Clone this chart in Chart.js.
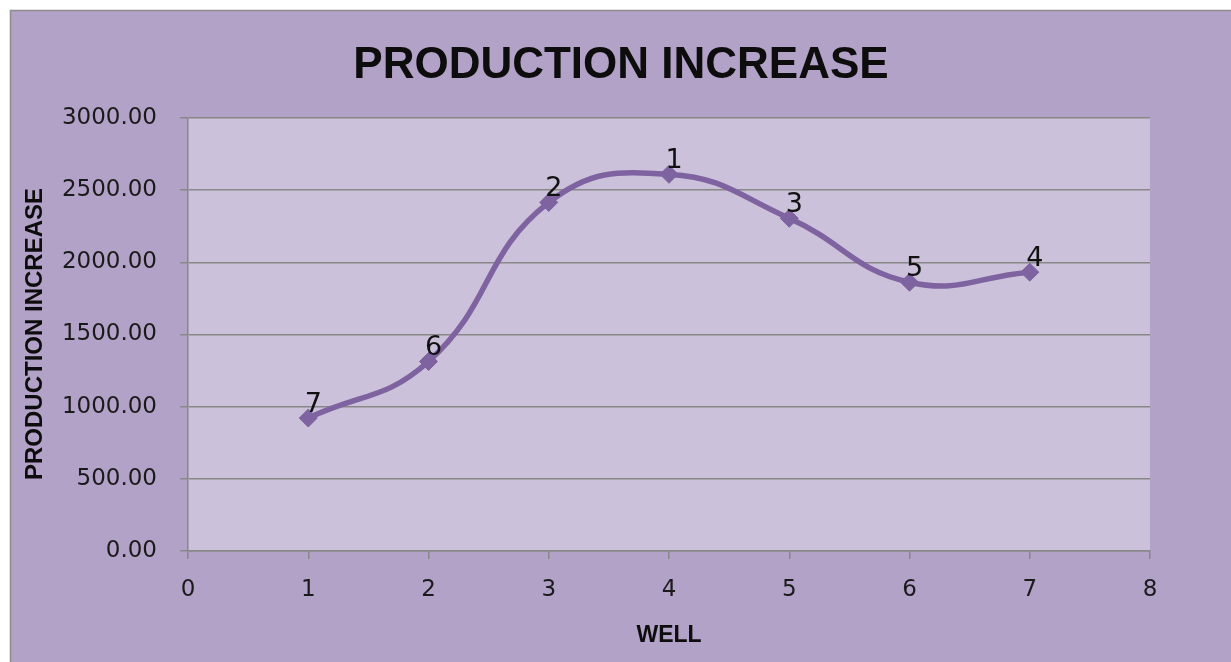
<!DOCTYPE html>
<html>
<head>
<meta charset="utf-8">
<script src="https://cdn.jsdelivr.net/npm/chart.js@4/dist/chart.umd.min.js"></script>
<style>
  html, body { margin: 0; padding: 0; background: #ffffff; }
  #wrap { width: 1231px; height: 662px; position: relative; }
</style>
</head>
<body>
<div id="wrap"><canvas id="c" width="1231" height="662"></canvas></div>
<script>
const wells = [1, 2, 3, 4, 5, 6, 7];
const production = [921, 1313, 2415, 2610, 2305, 1862, 1932];
const pointLabels = ['7', '6', '2', '1', '3', '5', '4'];
const xTicks = [0, 1, 2, 3, 4, 5, 6, 7, 8];
const yTicks = [0, 500, 1000, 1500, 2000, 2500, 3000];

const chartTitle = 'PRODUCTION INCREASE';
const xTitle = 'WELL';
const yTitle = 'PRODUCTION INCREASE';

const LINE = '#7f63a1';
const GRID = '#888888';

const bgPlugin = {
  id: 'bgPlugin',
  beforeDraw(chart) {
    const ctx = chart.ctx;
    const a = chart.chartArea;
    ctx.save();
    ctx.fillStyle = '#ffffff';
    ctx.fillRect(0, 0, chart.width, chart.height);
    ctx.fillStyle = '#b3a2c7';
    ctx.fillRect(10, 10, chart.width - 10, chart.height - 10);
    ctx.strokeStyle = '#8c8c8c';
    ctx.lineWidth = 1.5;
    ctx.beginPath();
    ctx.moveTo(10.5, chart.height);
    ctx.lineTo(10.5, 10.5);
    ctx.lineTo(chart.width, 10.5);
    ctx.stroke();
    ctx.fillStyle = '#ccc1da';
    ctx.fillRect(a.left, a.top, a.right - a.left, a.bottom - a.top);
    ctx.restore();
  },
  afterDraw(chart) {
    const ctx = chart.ctx;
    ctx.save();
    ctx.fillStyle = '#0d0d0d';
    ctx.textAlign = 'center';
    ctx.textBaseline = 'middle';
    ctx.font = 'bold 44px "Liberation Sans"';
    ctx.fillText(chartTitle, 621, 66);
    ctx.translate(35, 334);
    ctx.rotate(-Math.PI / 2);
    ctx.font = 'bold 24px "Liberation Sans"';
    ctx.fillText(yTitle, 0, 0);
    ctx.restore();
  }
};

const labelPlugin = {
  id: 'labelPlugin',
  afterDatasetsDraw(chart) {
    const ctx = chart.ctx;
    const meta = chart.getDatasetMeta(0);
    ctx.save();
    ctx.font = '27px "DejaVu Sans"';
    ctx.fillStyle = '#111111';
    ctx.textAlign = 'center';
    ctx.textBaseline = 'alphabetic';
    meta.data.forEach((pt, i) => {
      ctx.fillText(pointLabels[i], pt.x + 5, pt.y - 6);
    });
    ctx.restore();
  }
};

new Chart(document.getElementById('c'), {
  type: 'line',
  data: {
    datasets: [{
      data: wells.map((w, i) => ({ x: w, y: production[i] })),
      borderColor: LINE,
      backgroundColor: LINE,
      borderWidth: 5.5,
      tension: 0.45,
      pointStyle: 'rectRot',
      pointRadius: 9,
      pointHoverRadius: 9,
      pointBackgroundColor: LINE,
      pointBorderColor: LINE,
      pointBorderWidth: 1,
      fill: false
    }]
  },
  options: {
    responsive: false,
    animation: false,
    devicePixelRatio: 1,
    layout: { padding: { left: 12, right: 81, top: 118, bottom: 11 } },
    plugins: {
      legend: { display: false },
      tooltip: { enabled: false },
      title: { display: false }
    },
    scales: {
      x: {
        type: 'linear',
        min: 0,
        max: 8,
        afterFit(scale) { scale.height = 100; },
        afterBuildTicks(scale) { scale.ticks = xTicks.map(v => ({ value: v })); },
        ticks: {
          stepSize: 1,
          color: '#1a1a1a',
          padding: 17,
          maxRotation: 0,
          font: { family: '"DejaVu Sans"', size: 23 }
        },
        grid: {
          drawOnChartArea: false,
          drawTicks: true,
          tickLength: 8,
          color: GRID,
          lineWidth: 1.5
        },
        border: { display: true, color: GRID, width: 1.5 },
        title: {
          display: true,
          text: xTitle,
          color: '#0d0d0d',
          font: { family: '"Liberation Sans"', size: 23, weight: 'bold', lineHeight: 1.2 },
          padding: { top: 0, bottom: 2 }
        }
      },
      y: {
        type: 'linear',
        min: 0,
        max: 3000,
        afterFit(scale) { scale.width = 176; },
        afterBuildTicks(scale) { scale.ticks = yTicks.map(v => ({ value: v })); },
        ticks: {
          stepSize: 500,
          color: '#1a1a1a',
          padding: 23,
          font: { family: '"DejaVu Sans"', size: 23 },
          callback: v => Number(v).toFixed(2)
        },
        grid: {
          drawOnChartArea: true,
          drawTicks: true,
          tickLength: 8,
          color: GRID,
          lineWidth: 1.5
        },
        border: { display: true, color: GRID, width: 1.5 },
        title: { display: false }
      }
    }
  },
  plugins: [bgPlugin, labelPlugin]
});
</script>
</body>
</html>
